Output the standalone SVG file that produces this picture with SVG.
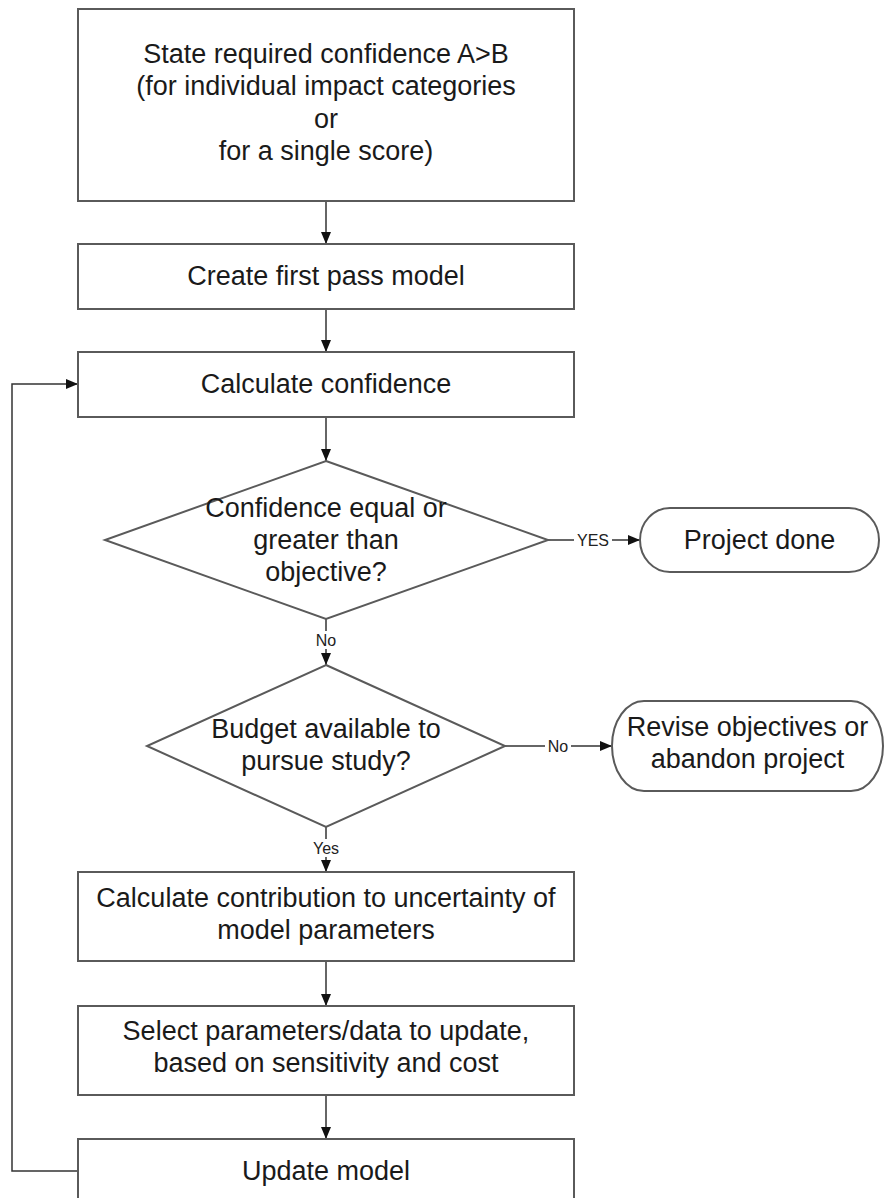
<svg xmlns="http://www.w3.org/2000/svg" width="896" height="1198" viewBox="0 0 896 1198">
<defs>
<marker id="ah" markerWidth="12" markerHeight="10" refX="12" refY="5" orient="auto" markerUnits="userSpaceOnUse">
<path d="M0,0 L12,5 L0,10 Z" fill="#111"/>
</marker>
<style>
.box{fill:#fff;stroke:#5a5a5a;stroke-width:2}
.t{font-family:"Liberation Sans",Arial,sans-serif;font-size:27px;fill:#1a1a1a;text-anchor:middle}
.lbl{font-family:"Liberation Sans",Arial,sans-serif;font-size:16px;fill:#222;text-anchor:middle}
.c{fill:none;stroke:#333;stroke-width:1.5}
</style>
</defs>
<rect width="896" height="1198" fill="#fff"/>
<g id="connectors">
<line class="c" x1="326" y1="201" x2="326" y2="244" marker-end="url(#ah)"/>
<line class="c" x1="326" y1="309" x2="326" y2="352" marker-end="url(#ah)"/>
<line class="c" x1="326" y1="417" x2="326" y2="461" marker-end="url(#ah)"/>
<line class="c" x1="548" y1="540" x2="640" y2="540" marker-end="url(#ah)"/>
<line class="c" x1="326" y1="619" x2="326" y2="665" marker-end="url(#ah)"/>
<line class="c" x1="505" y1="746" x2="612" y2="746" marker-end="url(#ah)"/>
<line class="c" x1="326" y1="827" x2="326" y2="872" marker-end="url(#ah)"/>
<line class="c" x1="326" y1="961" x2="326" y2="1006" marker-end="url(#ah)"/>
<line class="c" x1="326" y1="1095" x2="326" y2="1139" marker-end="url(#ah)"/>
<polyline class="c" points="78,1171 12,1171 12,384 78,384" marker-end="url(#ah)"/>
<rect x="574" y="531" width="38" height="18" fill="#fff"/>
<text class="lbl" x="593" y="546">YES</text>
<rect x="313" y="631" width="26" height="18" fill="#fff"/>
<text class="lbl" x="326" y="646">No</text>
<rect x="545" y="737" width="26" height="18" fill="#fff"/>
<text class="lbl" x="558" y="752">No</text>
<rect x="310" y="839" width="32" height="18" fill="#fff"/>
<text class="lbl" x="326" y="854">Yes</text>
</g>
<g id="n1">
<rect class="box" x="78" y="9" width="496" height="192"/>
<text class="t" x="326" y="63">State required confidence A&gt;B</text>
<text class="t" x="326" y="95">(for individual impact categories</text>
<text class="t" x="326" y="128">or</text>
<text class="t" x="326" y="160">for a single score)</text>
</g>
<g id="n2">
<rect class="box" x="78" y="244" width="496" height="65"/>
<text class="t" x="326" y="285">Create first pass model</text>
</g>
<g id="n3">
<rect class="box" x="78" y="352" width="496" height="65"/>
<text class="t" x="326" y="393">Calculate confidence</text>
</g>
<g id="n4">
<polygon class="box" points="326,461 548,540 326,619 105,540"/>
<text class="t" x="326" y="517">Confidence equal or</text>
<text class="t" x="326" y="549">greater than</text>
<text class="t" x="326" y="581">objective?</text>
</g>
<g id="n5">
<rect class="box" x="640" y="508" width="239" height="64" rx="30" ry="32"/>
<text class="t" x="759.5" y="549">Project done</text>
</g>
<g id="n6">
<polygon class="box" points="326,665 505,746 326,827 147,746"/>
<text class="t" x="326" y="738">Budget available to</text>
<text class="t" x="326" y="770">pursue study?</text>
</g>
<g id="n7">
<rect class="box" x="612" y="701" width="271" height="90" rx="32" ry="45"/>
<text class="t" x="747.5" y="736">Revise objectives or</text>
<text class="t" x="747.5" y="768">abandon project</text>
</g>
<g id="n8">
<rect class="box" x="78" y="872" width="496" height="89"/>
<text class="t" x="326" y="907">Calculate contribution to uncertainty of</text>
<text class="t" x="326" y="939">model parameters</text>
</g>
<g id="n9">
<rect class="box" x="78" y="1006" width="496" height="89"/>
<text class="t" x="326" y="1040">Select parameters/data to update,</text>
<text class="t" x="326" y="1072">based on sensitivity and cost</text>
</g>
<g id="n10">
<rect class="box" x="78" y="1139" width="496" height="65"/>
<text class="t" x="326" y="1180">Update model</text>
</g>
</svg>
